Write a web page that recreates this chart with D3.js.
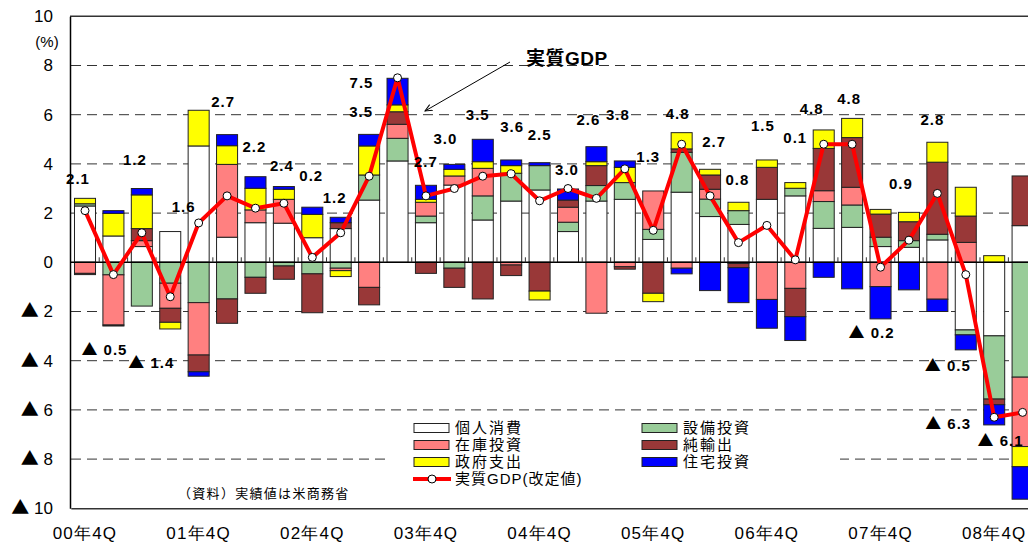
<!DOCTYPE html>
<html>
<head>
<meta charset="utf-8">
<script src="https://cdn.jsdelivr.net/npm/d3@7"></script>
<style>
  body { margin: 0; background: #fff; }
  svg { display: block; font-family: "Liberation Sans", "Noto Sans CJK JP", sans-serif; }
</style>
</head>
<body>
<div id="chart"></div>
<script>
'use strict';

// quarters 00Q4 .. 09Q1
var quarters = ['00Q4','01Q1','01Q2','01Q3','01Q4','02Q1','02Q2','02Q3','02Q4','03Q1','03Q2','03Q3',
  '03Q4','04Q1','04Q2','04Q3','04Q4','05Q1','05Q2','05Q3','05Q4','06Q1','06Q2','06Q3','06Q4',
  '07Q1','07Q2','07Q3','07Q4','08Q1','08Q2','08Q3','08Q4','09Q1'];

// contributions (% pt, annualised)
var consumption = [2.29,1.07,0.64,1.25,4.73,1.02,1.61,1.59,1.00,1.37,2.53,4.12,1.61,3.14,1.72,2.49,2.94,
  1.25,2.49,2.56,0.93,2.85,1.86,1.54,2.56,2.70,1.38,1.42,0.64,0.61,0.91,-2.75,-2.99,1.49];
var equipment = [0.09,-0.51,-1.78,-0.85,-1.64,-1.49,-0.61,-0.15,-0.47,-0.24,1.02,0.92,0.27,-0.24,0.98,1.13,0.99,
  0.38,0.63,0.68,0.41,1.62,0.71,0.56,0,0.31,1.09,0.91,0.38,0.27,0.23,-0.20,-2.57,-4.67];
var inventory = [-0.45,-2.04,0.24,-1.02,-2.13,2.96,0.52,0.97,0,-0.10,-1.02,0.57,0.56,0.37,1.12,-0.11,0,
  0.61,-2.07,-0.18,1.56,-0.24,0.40,-0.05,-1.51,-1.06,0.44,0.72,-0.99,0,-1.50,0.81,0,-2.82];
var netExports = [-0.05,-0.04,0.49,-0.57,-0.68,-0.99,-0.65,-0.54,-1.58,0.24,-0.71,0.51,-0.45,-0.78,-1.49,-0.43,-1.17,
  0.29,0.81,-0.10,-1.26,0.14,0.58,-0.17,1.30,-1.15,1.72,2.02,0.94,0.77,2.93,1.07,-0.23,2.02];
var government = [0.22,0.92,1.37,-0.27,1.45,0.76,0.88,0.41,0.95,-0.24,1.18,0.28,0.12,0.27,0.27,0.31,-0.36,
  0,0.16,0.62,-0.34,0.66,0.23,0.34,0.30,0.23,0.75,0.78,0.19,0.38,0.81,1.17,0.27,-0.82];
var housing = [0,0.11,0.26,0,-0.18,0.45,0.47,0.11,0.29,0.22,0.47,1.08,0.57,0.20,0.91,0.23,0.12,
  0.45,0.61,0.26,0,-0.23,-1.15,-1.42,-1.17,-0.97,-0.61,-1.08,-1.31,-1.12,-0.50,-0.61,-0.82,-1.32];
var realGdp = [2.1,-0.5,1.2,-1.4,1.6,2.7,2.2,2.4,0.2,1.2,3.5,7.5,2.7,3.0,3.5,3.6,2.5,
  3.0,2.6,3.8,1.3,4.8,2.7,0.8,1.5,0.1,4.8,4.8,-0.2,0.9,2.8,-0.5,-6.3,-6.1];

var componentKeys = ['consumption','equipment','inventory','netExports','government','housing'];
var componentNames = ['個人消費','設備投資','在庫投資','純輸出','政府支出','住宅投資'];
var gdpName = '実質GDP(改定値)';

var yTicks = [10,8,6,4,2,0,-2,-4,-6,-8,-10];
var xTickValues = ['00Q4','01Q4','02Q4','03Q4','04Q4','05Q4','06Q4','07Q4','08Q4'];
var xTickLabels = ['00年4Q','01年4Q','02年4Q','03年4Q','04年4Q','05年4Q','06年4Q','07年4Q','08年4Q'];

// where each GDP value label sits relative to its point (px)
var labelNudges = [[-7,-32],[-9,75],[-7,-73],[-19,66],[-15,-16],[-4,-94],[-1,-61],[-2,-38],[-1,-82],
  [-6,-35],[-8,-64],[-36,5],[0,-34],[-9,-50],[-5,-61],[1,-47],[0,-66],[-1,-19],[-8,-79],[-7,-54],
  [-5,-74],[-4,-30],[4,-54],[-1,-63],[-4,-100],[0,-122],[-12,-35],[-3,-45],[-9,66],[-8,-56],
  [-5,-74],[-18,91],[-46,6],[-22,28]];

function contributionChart() {

  var scope = {};
  var exports = {};

  scope.colors = {
    consumption: '#ffffff', equipment: '#99cc99', inventory: '#ff8080',
    netExports: '#993838', government: '#ffff00', housing: '#0000ff'
  };

  scope.appendSvg = function(div) {
    return d3.select(div).append('svg')
      .attr('width', scope.width)
      .attr('height', scope.height);
  }

  scope.createScales = function() {
    scope.xScale = d3.scaleBand().domain(quarters)
      .range([70.8, 1036.8]).paddingInner(0.26).paddingOuter(0.13);
    scope.yScale = d3.scaleLinear().domain([-10, 10]).range([508.3, 16.3]);
  }

  scope.center = function(q) {
    return scope.xScale(q) + scope.xScale.bandwidth() / 2;
  }

  // negative numbers are written with a full-width triangle
  scope.writeSigned = function(text, v, digits, triSize) {
    text.text('');
    if (v < 0) {
      text.append('tspan')
        .attr('font-family', '"Noto Sans CJK JP", sans-serif')
        .attr('font-size', triSize)
        .text('▲');
      text.append('tspan').text(' ' + (-v).toFixed(digits));
    } else {
      text.text(v.toFixed(digits));
    }
  }

  scope.createGrid = function(svg) {
    var y = scope.yScale;
    svg.append('g').attr('class', 'grid')
      .selectAll('line')
      .data(yTicks.filter(function(v) { return v !== 0 && Math.abs(v) !== 10; }))
      .enter().append('line')
      .attr('x1', 71).attr('x2', scope.width)
      .attr('y1', function(d) { return y(d); })
      .attr('y2', function(d) { return y(d); })
      .attr('stroke', '#333').attr('stroke-width', 1)
      .attr('stroke-dasharray', '10,6');

    svg.append('line')
      .attr('x1', 70).attr('x2', scope.width)
      .attr('y1', y(10)).attr('y2', y(10))
      .attr('stroke', '#333').attr('stroke-width', 1.5);
  }

  scope.createAxes = function(svg) {
    var yAxis = d3.axisLeft(scope.yScale)
      .tickValues(yTicks)
      .tickSize(0)
      .tickSizeOuter(0)
      .tickPadding(17);

    var yg = svg.append('g').attr('class', 'yAxis')
      .attr('transform', 'translate(70,0)')
      .call(yAxis);
    yg.select('.domain').attr('stroke', '#000').attr('stroke-width', 1.5);
    yg.selectAll('text').attr('font-size', 17).attr('fill', '#000')
      .each(function(d) { scope.writeSigned(d3.select(this), d, 0, 18); });

    svg.append('text')
      .attr('x', 47).attr('y', 42)
      .attr('dy', '0.35em')
      .attr('text-anchor', 'middle')
      .attr('font-size', 15)
      .text('(%)');

    var xAxis = d3.axisBottom(scope.xScale)
      .tickValues(xTickValues)
      .tickSize(0)
      .tickSizeOuter(0)
      .tickPadding(19)
      .tickFormat(function(d, i) { return xTickLabels[i]; });

    var xg = svg.append('g').attr('class', 'xAxis')
      .attr('transform', 'translate(0,' + scope.yScale(-10) + ')')
      .call(xAxis);
    xg.select('.domain').attr('stroke', '#333').attr('stroke-width', 1.5);
    xg.selectAll('text').attr('font-size', 17).attr('letter-spacing', 1.2).attr('fill', '#000');
  }

  scope.appendBars = function(svg) {
    var rows = quarters.map(function(q, i) {
      return {
        quarter: q,
        consumption: consumption[i], equipment: equipment[i], inventory: inventory[i],
        netExports: netExports[i], government: government[i], housing: housing[i]
      };
    });

    var series = d3.stack()
      .keys(componentKeys)
      .offset(d3.stackOffsetDiverging)(rows);

    var y = scope.yScale;
    svg.append('g').attr('class', 'bars')
      .selectAll('g')
      .data(series)
      .enter().append('g')
      .attr('fill', function(s) { return scope.colors[s.key]; })
      .selectAll('rect')
      .data(function(s) { return s.filter(function(d) { return d[1] - d[0] !== 0; }); })
      .enter().append('rect')
      .attr('x', function(d) { return scope.xScale(d.data.quarter); })
      .attr('width', scope.xScale.bandwidth())
      .attr('y', function(d) { return y(Math.max(d[0], d[1])); })
      .attr('height', function(d) { return Math.abs(y(d[0]) - y(d[1])); })
      .attr('stroke', '#222')
      .attr('stroke-width', 1);
  }

  scope.appendZeroLine = function(svg) {
    var y0 = scope.yScale(0);
    var step = scope.xScale.step();
    var start = scope.xScale.range()[0];
    svg.append('line')
      .attr('x1', 70).attr('x2', scope.width)
      .attr('y1', y0).attr('y2', y0)
      .attr('stroke', '#000').attr('stroke-width', 1.5);

    svg.append('g').attr('class', 'zeroTicks')
      .selectAll('line')
      .data(d3.range(1, quarters.length + 1))
      .enter().append('line')
      .attr('x1', function(i) { return start + i * step; })
      .attr('x2', function(i) { return start + i * step; })
      .attr('y1', y0).attr('y2', y0 - 5)
      .attr('stroke', '#333').attr('stroke-width', 1);
  }

  scope.appendLine = function(svg) {
    var y = scope.yScale;
    var line = d3.line()
      .x(function(d, i) { return scope.center(quarters[i]); })
      .y(function(d) { return y(d); });

    svg.append('path')
      .datum(realGdp)
      .attr('d', line)
      .attr('fill', 'none')
      .attr('stroke', '#ff0000')
      .attr('stroke-width', 4)
      .attr('stroke-linejoin', 'round');

    svg.append('g').attr('class', 'points')
      .selectAll('circle')
      .data(realGdp)
      .enter().append('circle')
      .attr('cx', function(d, i) { return scope.center(quarters[i]); })
      .attr('cy', function(d) { return y(d); })
      .attr('r', 4)
      .attr('fill', '#fff')
      .attr('stroke', '#000')
      .attr('stroke-width', 1);

    svg.append('g').attr('class', 'valueLabels')
      .selectAll('text')
      .data(realGdp)
      .enter().append('text')
      .attr('x', function(d, i) { return scope.center(quarters[i]) + labelNudges[i][0]; })
      .attr('y', function(d, i) { return y(d) + labelNudges[i][1]; })
      .attr('dy', '0.35em')
      .attr('text-anchor', 'middle')
      .attr('font-size', 15)
      .attr('font-weight', 'bold')
      .attr('letter-spacing', 1)
      .each(function(d) { scope.writeSigned(d3.select(this), d, 1, 16); });
  }

  scope.appendNote = function(svg) {
    svg.append('text')
      .attr('x', 526).attr('y', 58)
      .attr('dy', '0.35em')
      .attr('font-size', 19)
      .attr('font-weight', 'bold')
      .attr('letter-spacing', 0.5)
      .text('実質GDP');

    svg.append('defs').append('marker')
      .attr('id', 'arrow')
      .attr('viewBox', '0 0 10 10')
      .attr('refX', 9).attr('refY', 5)
      .attr('markerWidth', 8).attr('markerHeight', 8)
      .attr('orient', 'auto')
      .append('path')
      .attr('d', 'M0,1 L9,5 L0,9')
      .attr('fill', 'none')
      .attr('stroke', '#000')
      .attr('stroke-width', 1.2);

    svg.append('line')
      .attr('x1', 510).attr('y1', 62)
      .attr('x2', 425).attr('y2', 111)
      .attr('stroke', '#000').attr('stroke-width', 1)
      .attr('marker-end', 'url(#arrow)');

    svg.append('text')
      .attr('x', 178).attr('y', 493)
      .attr('dy', '0.35em')
      .attr('font-size', 13)
      .attr('letter-spacing', 1.3)
      .text('（資料）実績値は米商務省');
  }

  scope.appendLegend = function(svg) {
    var legend = svg.append('g').attr('class', 'legend');
    legend.append('rect')
      .attr('x', 388).attr('y', 416)
      .attr('width', 452).attr('height', 88)
      .attr('fill', '#fff');

    var entries = [
      { key: 'consumption', col: 0, row: 0 },
      { key: 'inventory', col: 0, row: 1 },
      { key: 'government', col: 0, row: 2 },
      { key: 'equipment', col: 1, row: 0 },
      { key: 'netExports', col: 1, row: 1 },
      { key: 'housing', col: 1, row: 2 }
    ];
    var colX = [414, 642];
    var rowY = [428, 445, 462, 479];

    var item = legend.selectAll('.item')
      .data(entries)
      .enter().append('g')
      .attr('class', 'item')
      .attr('transform', function(d) { return 'translate(' + colX[d.col] + ',' + rowY[d.row] + ')'; });

    item.append('rect')
      .attr('x', 0).attr('y', -4.5)
      .attr('width', 35).attr('height', 9)
      .attr('fill', function(d) { return scope.colors[d.key]; })
      .attr('stroke', '#222').attr('stroke-width', 1);

    item.append('text')
      .attr('x', 41).attr('y', 0)
      .attr('dy', '0.35em')
      .attr('font-size', 15)
      .attr('letter-spacing', 2)
      .text(function(d) { return componentNames[componentKeys.indexOf(d.key)]; });

    var gdpItem = legend.append('g')
      .attr('transform', 'translate(' + colX[0] + ',' + rowY[3] + ')');
    gdpItem.append('line')
      .attr('x1', -1).attr('x2', 37)
      .attr('stroke', '#ff0000').attr('stroke-width', 4);
    gdpItem.append('circle')
      .attr('cx', 18).attr('r', 4)
      .attr('fill', '#fff').attr('stroke', '#000');
    gdpItem.append('text')
      .attr('x', 41).attr('dy', '0.35em')
      .attr('font-size', 15)
      .attr('letter-spacing', 1)
      .text(gdpName);
  }

  exports.run = function(div, setup) {
    scope.width = setup.width;
    scope.height = setup.height;
    scope.svg = scope.appendSvg(div);
    scope.createScales();
    scope.createGrid(scope.svg);
    scope.appendLegend(scope.svg);
    scope.appendBars(scope.svg);
    scope.appendZeroLine(scope.svg);
    scope.createAxes(scope.svg);
    scope.appendLine(scope.svg);
    scope.appendNote(scope.svg);
    return scope.svg;
  }

  return exports;
}

contributionChart().run('#chart', { width: 1028, height: 543 });
</script>
</body>
</html>
